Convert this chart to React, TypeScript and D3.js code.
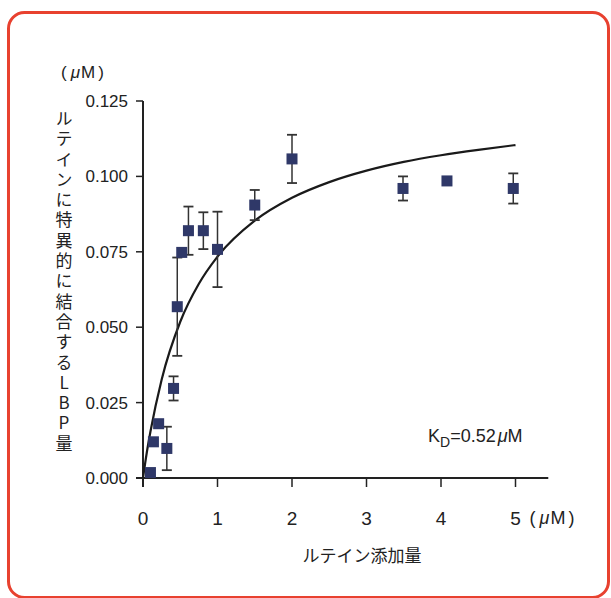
import React, { useRef, useEffect } from "react";
import * as d3 from "d3";

// measured points (lutein added, μM) vs specifically bound LBP (μM)
const luteinAdded = [0.1, 0.14, 0.21, 0.32, 0.41, 0.46, 0.52, 0.61, 0.81, 1.0, 1.5, 2.0, 3.49, 4.08, 4.97];
const lbpBound = [0.0018, 0.012, 0.018, 0.0098, 0.0297, 0.0568, 0.0748, 0.082, 0.082, 0.0758, 0.0905, 0.1058, 0.096, 0.0985, 0.096];
const lbpError = [0, 0, 0, 0.0072, 0.004, 0.0163, 0, 0.008, 0.0061, 0.0125, 0.005, 0.008, 0.004, 0, 0.005];

// fitted binding curve
const curveX = [0, 0.05, 0.1, 0.25, 0.5, 0.75, 1, 1.5, 2, 2.5, 3, 3.5, 4, 4.5, 5];
const curveY = [0, 0.0083, 0.0154, 0.0326, 0.0518, 0.0644, 0.0734, 0.0853, 0.0929, 0.0981, 0.1019, 0.1048, 0.107, 0.1088, 0.1104];

const xTicks = [0, 1, 2, 3, 4, 5];
const yTicks = [0, 0.025, 0.05, 0.075, 0.1, 0.125];
const yTitle = "ルテインに特異的に結合するLBP量";

const App = () => {
  const wrapper = useRef<SVGSVGElement>(null);
  const width = 611;
  const height = 598;

  useEffect(() => {
    const svg = d3.select(wrapper.current);
    svg.selectAll("*").remove();

    const x = d3.scaleLinear().domain([0, 5]).range([143, 515.5]);
    const y = d3.scaleLinear().domain([0, 0.125]).range([478, 101]);
    const jp = "'Noto Sans CJK JP', sans-serif";
    const narrow = "'Liberation Sans Narrow', 'Liberation Sans', Arial, sans-serif";
    const sans = "'Liberation Sans', Arial, sans-serif";
    const ink = "#222";

    // frame
    svg
      .append("rect")
      .attr("x", 8.5)
      .attr("y", 12.5)
      .attr("width", 600)
      .attr("height", 585)
      .attr("rx", 16)
      .attr("fill", "white")
      .attr("stroke", "#e8412f")
      .attr("stroke-width", 3);

    // unit label "(μM)" with spaced parens and italic mu
    const unit = (px: number, py: number, size: number) => {
      const t = svg.append("text").attr("x", px).attr("y", py)
        .attr("font-family", sans).attr("font-size", size).attr("fill", ink);
      t.append("tspan").text("(");
      t.append("tspan").text("μ").attr("font-style", "italic").attr("dx", 4);
      t.append("tspan").text("M").attr("dx", 1);
      t.append("tspan").text(")").attr("dx", 3);
    };

    // axes lines
    svg.append("line").attr("x1", x(0)).attr("x2", x(0)).attr("y1", y(0.125)).attr("y2", y(0) + 9)
      .attr("stroke", ink).attr("stroke-width", 2);
    svg.append("line").attr("x1", x(0) - 7).attr("x2", x(5.44)).attr("y1", y(0)).attr("y2", y(0))
      .attr("stroke", ink).attr("stroke-width", 2);

    // y ticks
    svg
      .selectAll(".ytick")
      .data(yTicks)
      .enter()
      .append("line")
      .attr("x1", x(0) - 7)
      .attr("x2", x(0))
      .attr("y1", (d) => y(d))
      .attr("y2", (d) => y(d))
      .attr("stroke", ink)
      .attr("stroke-width", 1.5);
    svg
      .selectAll(".ylab")
      .data(yTicks)
      .enter()
      .append("text")
      .text((d) => d.toFixed(3))
      .attr("x", 128)
      .attr("y", (d) => y(d))
      .attr("dy", "0.35em")
      .attr("text-anchor", "end")
      .attr("font-family", narrow)
      .attr("font-size", 17)
      .attr("fill", ink);

    // x ticks
    svg
      .selectAll(".xtick")
      .data(xTicks)
      .enter()
      .append("line")
      .attr("x1", (d) => x(d))
      .attr("x2", (d) => x(d))
      .attr("y1", y(0))
      .attr("y2", y(0) + 9)
      .attr("stroke", ink)
      .attr("stroke-width", 1.5);
    svg
      .selectAll(".xlab")
      .data(xTicks)
      .enter()
      .append("text")
      .text((d) => String(d))
      .attr("x", (d) => x(d))
      .attr("y", 525)
      .attr("text-anchor", "middle")
      .attr("font-family", sans)
      .attr("font-size", 19)
      .attr("fill", ink);
    unit(x(5) + 14, 524, 18);

    // units and titles
    unit(61, 78, 17);
    svg
      .append("text")
      .text(yTitle)
      .attr("x", 64)
      .attr("y", 110)
      .style("writing-mode", "vertical-rl")
      .style("text-orientation", "upright")
      .attr("letter-spacing", 3.3)
      .attr("font-family", jp)
      .attr("font-size", 17)
      .attr("fill", ink);
    svg.append("text").text("ルテイン添加量").attr("x", 362).attr("y", 562)
      .attr("text-anchor", "middle").attr("font-family", jp).attr("font-size", 17).attr("fill", ink);

    const kd = svg.append("text").attr("x", 428).attr("y", 442)
      .attr("font-family", sans).attr("font-size", 18).attr("fill", ink);
    kd.append("tspan").text("K");
    kd.append("tspan").text("D").attr("font-size", 14).attr("dy", 5);
    kd.append("tspan").text("=0.52").attr("dy", -5);
    kd.append("tspan").text("μ").attr("font-style", "italic").attr("dx", 2);
    kd.append("tspan").text("M");

    // fit curve
    const line = d3
      .line<number>()
      .x((d) => x(d))
      .y((d, i) => y(curveY[i]))
      .curve(d3.curveMonotoneX);
    svg.append("path").attr("d", line(curveX)).attr("fill", "none")
      .attr("stroke", "#1a1a1a").attr("stroke-width", 2.2);

    // error bars
    const pts = luteinAdded.map((v, i) => ({ x: v, y: lbpBound[i], e: lbpError[i] }));
    const bars = svg.selectAll(".err").data(pts.filter((p) => p.e > 0)).enter().append("g");
    bars.append("line").attr("x1", (d) => x(d.x)).attr("x2", (d) => x(d.x))
      .attr("y1", (d) => y(d.y - d.e)).attr("y2", (d) => y(d.y + d.e))
      .attr("stroke", "#333").attr("stroke-width", 1.5);
    [1, -1].forEach((s) => {
      bars.append("line").attr("x1", (d) => x(d.x) - 5).attr("x2", (d) => x(d.x) + 5)
        .attr("y1", (d) => y(d.y + s * d.e)).attr("y2", (d) => y(d.y + s * d.e))
        .attr("stroke", "#333").attr("stroke-width", 1.8);
    });

    // squares
    const sz = 11;
    svg
      .selectAll(".pt")
      .data(pts)
      .enter()
      .append("rect")
      .attr("x", (d) => x(d.x) - sz / 2)
      .attr("y", (d) => y(d.y) - sz / 2)
      .attr("width", sz)
      .attr("height", sz)
      .attr("fill", "#2f3868");
  }, [wrapper]);

  return (
    <svg
      ref={wrapper}
      width={width}
      height={height}
      style={{ position: "absolute", left: 0, top: 0, background: "white" }}
    />
  );
};

export default App;
